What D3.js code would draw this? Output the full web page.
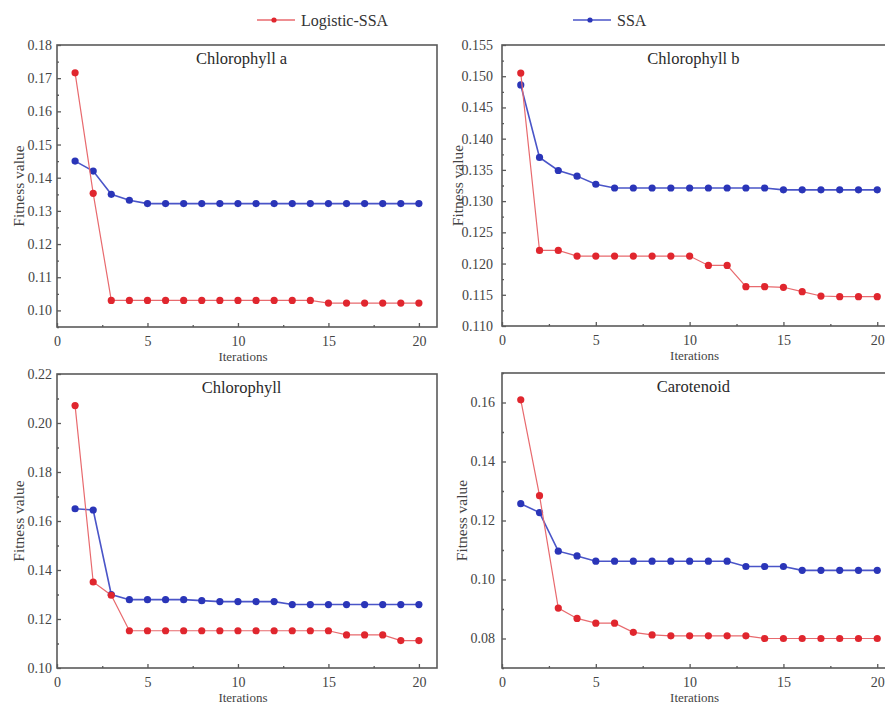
<!DOCTYPE html>
<html><head><meta charset="utf-8">
<script src="https://cdn.jsdelivr.net/npm/d3@7"></script>
<style>
html,body{margin:0;padding:0;background:#fff;}
svg{display:block;font-family:"Liberation Serif","Times New Roman",serif;}
</style></head>
<body><svg id="chart" width="885" height="708"></svg>
<script>
const iterations = [1,2,3,4,5,6,7,8,9,10,11,12,13,14,15,16,17,18,19,20];
const seriesNames = ["Logistic-SSA","SSA"];
const panelTitles = ["Chlorophyll a","Chlorophyll b","Chlorophyll","Carotenoid"];

const chlaLogistic = [0.1716,0.1353,0.1030,0.1030,0.1030,0.1030,0.1030,0.1030,0.1030,0.1030,0.1030,0.1030,0.1030,0.1030,0.1022,0.1022,0.1022,0.1022,0.1022,0.1022];
const chlaSSA      = [0.1450,0.1420,0.1350,0.1332,0.1322,0.1322,0.1322,0.1322,0.1322,0.1322,0.1322,0.1322,0.1322,0.1322,0.1322,0.1322,0.1322,0.1322,0.1322,0.1322];
const chlbLogistic = [0.1505,0.1221,0.1221,0.1212,0.1212,0.1212,0.1212,0.1212,0.1212,0.1212,0.1197,0.1197,0.1163,0.1163,0.1162,0.1155,0.1148,0.1147,0.1147,0.1147];
const chlbSSA      = [0.1486,0.1370,0.1349,0.1340,0.1327,0.1321,0.1321,0.1321,0.1321,0.1321,0.1321,0.1321,0.1321,0.1321,0.1318,0.1318,0.1318,0.1318,0.1318,0.1318];
const chlLogistic  = [0.2071,0.1351,0.1297,0.1152,0.1152,0.1152,0.1152,0.1152,0.1152,0.1152,0.1152,0.1152,0.1152,0.1152,0.1152,0.1135,0.1135,0.1135,0.1112,0.1112];
const chlSSA       = [0.1650,0.1645,0.1300,0.1279,0.1279,0.1279,0.1279,0.1275,0.1271,0.1271,0.1271,0.1271,0.1259,0.1259,0.1259,0.1259,0.1259,0.1259,0.1259,0.1259];
const carLogistic  = [0.1609,0.1284,0.0903,0.0868,0.0852,0.0852,0.0821,0.0812,0.0809,0.0809,0.0809,0.0809,0.0809,0.0800,0.0800,0.0800,0.0800,0.0800,0.0800,0.0800];
const carSSA       = [0.1257,0.1227,0.1096,0.1080,0.1062,0.1062,0.1062,0.1062,0.1062,0.1062,0.1062,0.1062,0.1044,0.1044,0.1044,0.1031,0.1031,0.1031,0.1031,0.1031];

const xTickLabels = [0,5,10,15,20];
const yTicksA = [0.10,0.11,0.12,0.13,0.14,0.15,0.16,0.17,0.18];
const yTicksB = [0.110,0.115,0.120,0.125,0.130,0.135,0.140,0.145,0.150,0.155];
const yTicksC = [0.10,0.12,0.14,0.16,0.18,0.20,0.22];
const yTicksD = [0.08,0.10,0.12,0.14,0.16];

const colors = {logistic:"#e0262e", logisticLine:"#e86a6e", ssa:"#2a35b8", ssaLine:"#4a55c8"};
const axisColor = "#5a5a5a";

const panels = [
  {title:panelTitles[0], logistic:chlaLogistic, ssa:chlaSSA, yDomain:[0.095,0.18], yTicks:yTicksA, yMinor:0.005, fmt:".2f",
   left:57, right:437, top:45, bottom:327, pad:5, labOff:33},
  {title:panelTitles[1], logistic:chlbLogistic, ssa:chlbSSA, yDomain:[0.110,0.155], yTicks:yTicksB, yMinor:0.0025, fmt:".3f",
   left:502, right:896, top:45, bottom:326, pad:9, labOff:39},
  {title:panelTitles[2], logistic:chlLogistic, ssa:chlSSA, yDomain:[0.10,0.22], yTicks:yTicksC, yMinor:0.01, fmt:".2f",
   left:57, right:437, top:374, bottom:668, pad:5, labOff:33},
  {title:panelTitles[3], logistic:carLogistic, ssa:carSSA, yDomain:[0.07,0.17], yTicks:yTicksD, yMinor:0.01, fmt:".2f",
   left:502, right:896, top:373, bottom:668, pad:7, labOff:35}
];

const svg = d3.select("#chart");

panels.forEach(p => {
  const g = svg.append("g");
  const x = d3.scaleLinear().domain([0,21]).range([p.left,p.right]);
  const y = d3.scaleLinear().domain(p.yDomain).range([p.bottom,p.top]);

  const yMinorVals = d3.range(p.yDomain[0], p.yDomain[1]+1e-9, p.yMinor)
    .filter(v => !p.yTicks.some(t => Math.abs(t - v) < 1e-7));
  const xMinorVals = [2.5,7.5,12.5,17.5];

  g.append("rect").attr("x",p.left).attr("y",p.top)
    .attr("width",p.right-p.left).attr("height",p.bottom-p.top)
    .attr("fill","none").attr("stroke",axisColor).attr("stroke-width",1.6);

  const yAxis = d3.axisLeft(y).tickValues(p.yTicks).tickFormat(d3.format(p.fmt)).tickSizeInner(-4).tickSizeOuter(0).tickPadding(p.pad);
  const ya = g.append("g").attr("transform",`translate(${p.left},0)`).call(yAxis);
  ya.select(".domain").remove();
  ya.selectAll("line").attr("stroke",axisColor).attr("stroke-width",1.3);
  ya.selectAll("text").attr("font-size",14).attr("fill","#444").attr("font-family","Liberation Serif");
  const yAxisMinor = d3.axisLeft(y).tickValues(yMinorVals).tickFormat("").tickSizeInner(-2).tickSizeOuter(0);
  const ym = g.append("g").attr("transform",`translate(${p.left},0)`).call(yAxisMinor);
  ym.select(".domain").remove();
  ym.selectAll("line").attr("stroke",axisColor).attr("stroke-width",1.3);

  const xAxis = d3.axisBottom(x).tickValues(xTickLabels).tickFormat(d3.format("d")).tickSizeInner(-4).tickSizeOuter(0).tickPadding(9);
  const xa = g.append("g").attr("transform",`translate(0,${p.bottom})`).call(xAxis);
  xa.select(".domain").remove();
  xa.selectAll("line").attr("stroke",axisColor).attr("stroke-width",1.3);
  xa.selectAll("text").attr("font-size",14).attr("fill","#444").attr("font-family","Liberation Serif");
  const xAxisMinor = d3.axisBottom(x).tickValues(xMinorVals).tickFormat("").tickSizeInner(-2).tickSizeOuter(0);
  const xm = g.append("g").attr("transform",`translate(0,${p.bottom})`).call(xAxisMinor);
  xm.select(".domain").remove();
  xm.selectAll("line").attr("stroke",axisColor).attr("stroke-width",1.3);

  g.append("text").attr("x",(x(0)+x(20))/2+5).attr("y",p.bottom+34)
    .attr("text-anchor","middle").attr("font-size",13).attr("fill","#444").text("Iterations");
  g.append("text").attr("transform",`translate(${p.left-p.labOff},${(p.top+p.bottom)/2}) rotate(-90)`)
    .attr("text-anchor","middle").attr("font-size",15.5).attr("fill","#444").text("Fitness value");

  g.append("text").attr("x",x(10.2)).attr("y",p.top+19)
    .attr("text-anchor","middle").attr("font-size",16.5).attr("fill","#2a2a2a").text(p.title);

  const line = d3.line().x((d,i)=>x(iterations[i])).y(d=>y(d));
  g.append("path").datum(p.ssa).attr("d",line).attr("fill","none")
    .attr("stroke",colors.ssaLine).attr("stroke-width",1.6);
  g.selectAll("circle.ssa").data(p.ssa).join("circle").attr("class","ssa")
    .attr("cx",(d,i)=>x(iterations[i])).attr("cy",d=>y(d)).attr("r",3.6).attr("fill",colors.ssa);
  g.append("path").datum(p.logistic).attr("d",line).attr("fill","none")
    .attr("stroke",colors.logisticLine).attr("stroke-width",1.2);
  g.selectAll("circle.log").data(p.logistic).join("circle").attr("class","log")
    .attr("cx",(d,i)=>x(iterations[i])).attr("cy",d=>y(d)).attr("r",3.6).attr("fill",colors.logistic);
});

const legend = [
  {name:seriesNames[0], line:colors.logisticLine, dot:colors.logistic, x:257},
  {name:seriesNames[1], line:colors.ssaLine, dot:colors.ssa, x:573}
];
legend.forEach(l => {
  const lg = svg.append("g");
  lg.append("line").attr("x1",l.x).attr("x2",l.x+38).attr("y1",20).attr("y2",20)
    .attr("stroke",l.line).attr("stroke-width",1.5);
  lg.append("circle").attr("cx",l.x+17).attr("cy",20).attr("r",2.6).attr("fill",l.dot);
  lg.append("text").attr("x",l.x+44).attr("y",25.5).attr("font-size",16).attr("fill","#333").text(l.name);
});
</script>
</body></html>
